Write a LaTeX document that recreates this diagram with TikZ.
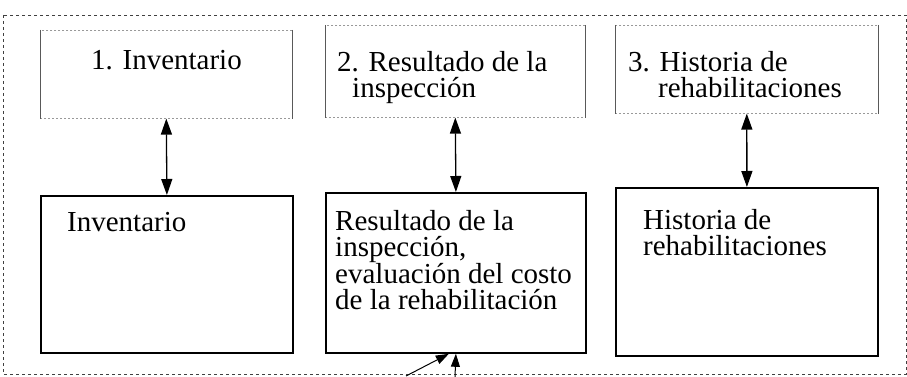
\documentclass[tikz,border=0pt]{standalone}
\usepackage{fontspec}
\setmainfont{Liberation Serif}
\usetikzlibrary{
  positioning,
  arrows.meta
}

\begin{document}
\begin{tikzpicture}[
  x=1pt, y=-1pt,
  every node/.style={font=\fontsize{29}{26.5}\selectfont},
  frame/.style={draw=black!75, line width=0.9pt, dash pattern=on 3pt off 3pt},
  headbox/.style={draw=black!40, line width=0.6pt, dash pattern=on 2pt off 2pt, inner sep=0pt, anchor=north west},
  headside/.style={draw=black!65, line width=1pt},
  mainbox/.style={draw, line width=1.8pt, inner sep=0pt, anchor=north west},
  txt/.style={inner sep=0pt, anchor=north west, align=left},
  arrow/.style={line width=1.3pt, {Triangle[length=16pt,width=11pt]}-{Triangle[length=16pt,width=11pt]}},
  feed/.style={line width=1pt, -{Triangle[length=13pt,width=9pt]}}
]
\useasboundingbox (0,0) rectangle (907,377);

% Frame
\draw[frame] (3,15) rectangle (906,374);

% Nodes
\node[headbox, minimum width=252pt, minimum height=88pt] (invhead) at (40,30) {};
\node[headbox, minimum width=260pt, minimum height=92pt] (insphead) at (325,25) {};
\node[headbox, minimum width=263pt, minimum height=88pt] (histhead) at (615,25) {};
\foreach \n in {invhead,insphead,histhead} {
  \draw[headside] (\n.north west) -- (\n.south west);
  \draw[headside] (\n.north east) -- (\n.south east);
}

\node[mainbox, minimum width=252pt, minimum height=157pt] (inv) at (40,195) {};
\node[mainbox, minimum width=260pt, minimum height=160pt] (insp) at (325,192) {};
\node[mainbox, minimum width=262pt, minimum height=168pt] (hist) at (615,187) {};

% Texts
\node[txt] (invheadtxt) at (91,50) {1. Inventario};
\node[txt] (inspheadtxt) at (337,51) {2. Resultado de la\\\hspace*{15pt}inspección};
\node[txt] (histheadtxt) at (628,51) {3. Historia de\\\hspace*{30pt}rehabilitaciones};
\node[txt] (invtxt) at (67,212) {Inventario};
\node[txt] (insptxt) at (335,210) {Resultado de la\\inspección,\\evaluación del costo\\de la rehabilitación};
\node[txt] (histtxt) at (643,209) {Historia de\\rehabilitaciones};

% Arrows
\draw[arrow] (invhead.south) -- (inv.north);
\draw[arrow] (insphead.south) -- (insp.north);
\draw[arrow] (histhead.south) -- (hist.north);

\coordinate (feedA) at (455,377);
\coordinate (feedB) at (406,376);
\draw[feed] (feedA) -- (insp.south);
\draw[feed] (feedB) -- (insp.265);

\end{tikzpicture}
\end{document}
